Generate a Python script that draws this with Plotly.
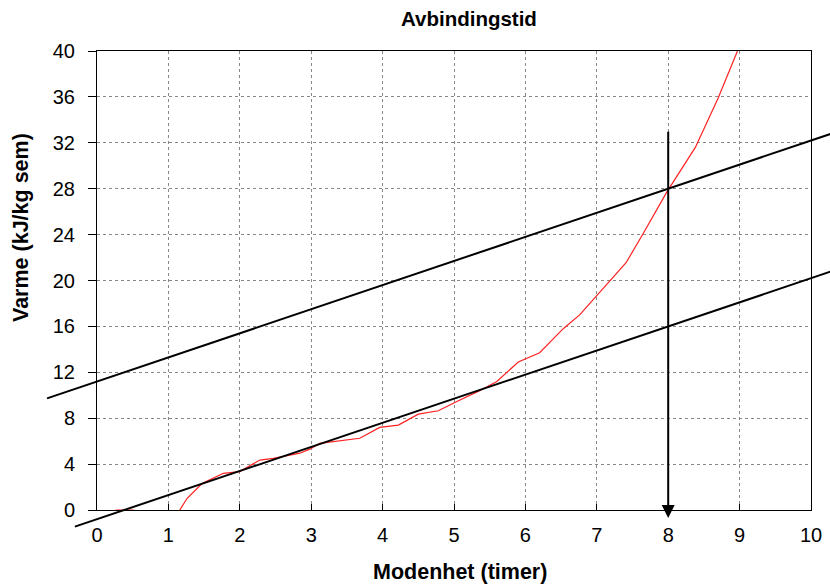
import plotly.graph_objects as go

# Heat release curve (Modenhet in hours, Varme in kJ/kg sem)
red_x = [0.0, 0.28, 0.5, 0.63, 0.9, 1.15, 1.26, 1.47, 1.77, 2.0, 2.28, 2.47, 2.84, 2.98,
         3.12, 3.68, 3.96, 4.22, 4.5, 4.78, 5.04, 5.36, 5.6, 5.9, 6.2, 6.53, 6.76, 7.07,
         7.41, 7.65, 7.98, 8.38, 8.7, 8.97]
red_y = [-0.4, 0.0, 0.0, -0.2, -1.2, -0.1, 1.0, 2.3, 3.2, 3.35, 4.35, 4.5, 4.95, 5.3,
         5.8, 6.25, 7.2, 7.4, 8.35, 8.65, 9.45, 10.4, 11.2, 12.9, 13.7, 15.8, 17.0, 19.2,
         21.55, 24.1, 27.7, 31.6, 35.9, 40.0]

# Two parallel construction lines
upper_x = [-0.7, 10.3]
upper_y = [9.73, 32.83]
lower_x = [-0.31, 10.3]
lower_y = [-1.45, 20.83]

# Vertical marker at the setting time
marker_x = 8
marker_top = 33.1
marker_tip = -0.7

x_ticks = list(range(0, 11))
y_ticks = list(range(0, 41, 4))
x_range = [0, 10]
y_range = [0, 40]

W, H = 830, 585
FONT = "Liberation Sans, Arial, sans-serif"

# main plot box in paper fractions
xd = [97 / W, 811 / W]
yd = [75 / H, 534 / H]


def extend(rng, dom):
    span = rng[1] - rng[0]
    frac = dom[1] - dom[0]
    return [rng[0] - dom[0] * span / frac, rng[1] + (1 - dom[1]) * span / frac]


fig = go.Figure()

fig.add_trace(go.Scatter(x=red_x, y=red_y, mode="lines",
                         line=dict(color="#ff2020", width=1.2),
                         xaxis="x", yaxis="y", showlegend=False, hoverinfo="skip"))

for lx, ly in [(upper_x, upper_y), (lower_x, lower_y)]:
    fig.add_trace(go.Scatter(x=lx, y=ly, mode="lines",
                             line=dict(color="black", width=2),
                             xaxis="x2", yaxis="y2", showlegend=False, hoverinfo="skip"))

axis_common = dict(showline=True, linecolor="black", linewidth=1, mirror=True,
                   showgrid=True, gridcolor="#888888", griddash="dot", gridwidth=1,
                   zeroline=False, tickfont=dict(family=FONT, size=20, color="black"),
                   tickcolor="black", automargin=False)

fig.update_layout(
    width=W, height=H,
    margin=dict(l=0, r=0, t=0, b=0, pad=0, autoexpand=False),
    paper_bgcolor="white", plot_bgcolor="rgba(0,0,0,0)",
    xaxis=dict(domain=xd, range=x_range, tickvals=x_ticks, ticks="inside", ticklen=6,
               anchor="y", ticklabelstandoff=7, **axis_common),
    yaxis=dict(domain=yd, range=y_range, tickvals=y_ticks, ticks="outside", ticklen=8,
               anchor="x", ticklabelstandoff=9, **axis_common),
    xaxis2=dict(domain=[0, 1], range=extend(x_range, xd), visible=False, anchor="y2",
                fixedrange=True, automargin=False),
    yaxis2=dict(domain=[0, 1], range=extend(y_range, yd), visible=False, anchor="x2",
                fixedrange=True, automargin=False),
    font=dict(family=FONT, color="black"),
)

fig.add_annotation(x=marker_x, y=marker_tip, ax=marker_x, ay=marker_top,
                   xref="x", yref="y", axref="x", ayref="y",
                   showarrow=True, arrowhead=2, arrowsize=1.3, arrowwidth=2,
                   arrowcolor="black", text="")

titles = [
    ("<b>Avbindingstid</b>", 469, 18, 20.5, 0),
    ("<b>Modenhet (timer)</b>", 460, 572, 21.5, 0),
    ("<b>Varme (kJ/kg sem)</b>", 21, 228, 21.5, -90),
]
for text, px, py, size, angle in titles:
    fig.add_annotation(text=text, x=px / W, y=1 - py / H, xref="paper", yref="paper",
                       xanchor="center", yanchor="middle", showarrow=False,
                       textangle=angle, font=dict(family=FONT, size=size, color="black"))

fig.write_html("out.html")
